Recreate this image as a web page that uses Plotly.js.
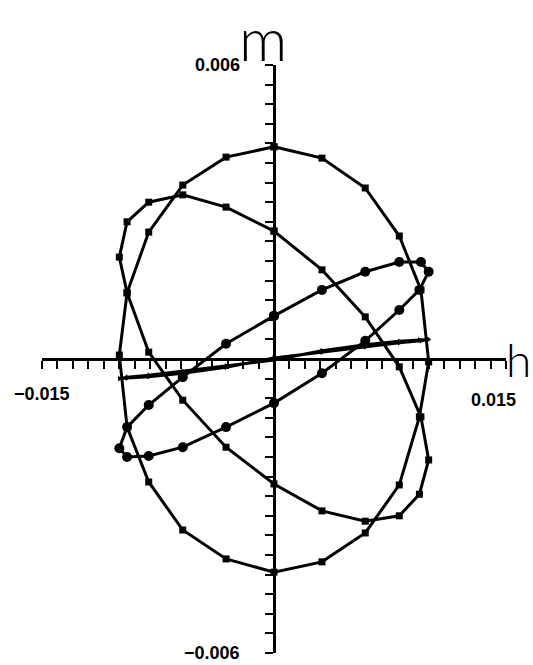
<!DOCTYPE html>
<html>
<head>
<meta charset="utf-8">
<script src="https://cdn.plot.ly/plotly-3.0.1.min.js"></script>
<style>
  html, body { margin: 0; padding: 0; background: #fff; }
  #chart { width: 533px; height: 665px; }
</style>
</head>
<body>
<div id="chart"></div>
<script>
// Applied field h, sampled 20 times per drive cycle (shared by every loop)
const hField = [0, 0.0031, 0.0059, 0.0081, 0.0095, 0.0100, 0.0094, 0.0081, 0.0059, 0.0031,
                0, -0.0031, -0.0059, -0.0081, -0.0095, -0.0100, -0.0095, -0.0081, -0.0059, -0.0031];

// Response m over one cycle for each of the four coexisting loops
const mOuter = [0.00433, 0.00410, 0.00349, 0.00251, 0.00141, -0.00006, -0.00118, -0.00257, -0.00355, -0.00414,
                -0.00435, -0.00408, -0.00349, -0.00251, -0.00139, 0.00008, 0.00135, 0.00259, 0.00355, 0.00412];
const mTwisted = [0.00261, 0.00182, 0.00086, -0.00016, -0.00118, -0.00206, -0.00276, -0.00320, -0.00331, -0.00310,
                  -0.00255, -0.00180, -0.00084, 0.00014, 0.00135, 0.00208, 0.00280, 0.00320, 0.00335, 0.00310];
const mTilted = [0.00088, 0.00141, 0.00178, 0.00198, 0.00198, 0.00178, 0.00141, 0.00100, 0.00037, -0.00029,
                 -0.00090, -0.00139, -0.00180, -0.00198, -0.00200, -0.00182, -0.00139, -0.00094, -0.00037, 0.00031];
const mFlat = [0.00002, 0.00014, 0.00025, 0.00033, 0.00037, 0.00040, 0.00039, 0.00036, 0.00029, 0.00017,
               -0.00002, -0.00014, -0.00025, -0.00033, -0.00037, -0.00040, -0.00039, -0.00036, -0.00029, -0.00017];

// Axis ends
const hRange = [-0.015, 0.015];
const mRange = [-0.006, 0.006];
const hEndLabels = ['\u22120.015', '0.015'];
const mEndLabels = ['\u22120.006', '0.006'];

function closed(arr) { return arr.concat([arr[0]]); }

function loop(m, symbol, size) {
  return {
    type: 'scatter', mode: 'lines+markers',
    x: closed(hField), y: closed(m),
    line: { color: '#000', width: 3 },
    marker: { color: '#000', symbol: symbol, size: size },
    hoverinfo: 'skip', cliponaxis: false
  };
}

const traces = [
  loop(mOuter, 'square', 7),
  loop(mTwisted, 'square', 7),
  loop(mTilted, 'circle', 10),
  loop(mFlat, 'triangle-right', 5)
];

function steps(lo, hi, n) {
  const out = [];
  for (let i = 0; i <= n; i++) out.push(+(lo + (hi - lo) * i / n).toFixed(6));
  return out;
}

const axisCommon = {
  anchor: 'free', position: 0.5,
  showline: true, linecolor: '#000', linewidth: 3,
  ticks: 'outside', ticklen: 8, tickwidth: 2, tickcolor: '#000',
  tickmode: 'array', showticklabels: false,
  showgrid: false, zeroline: false, fixedrange: true
};

const labelFont = { family: 'Liberation Sans, Arial, sans-serif', size: 18, color: '#000', weight: 700 };
const letterFont = (s) => ({ family: 'Lato, Noto Sans, sans-serif', size: s, color: '#000', weight: 300 });

const layout = {
  width: 533, height: 665,
  margin: { l: 42, r: 27, t: 65, b: 12 },
  paper_bgcolor: '#fff', plot_bgcolor: '#fff',
  showlegend: false,
  xaxis: Object.assign({}, axisCommon, { range: hRange, tickvals: steps(hRange[0], hRange[1], 30) }),
  yaxis: Object.assign({}, axisCommon, { range: mRange, tickvals: steps(mRange[0], mRange[1], 30) }),
  annotations: [
    { text: hEndLabels[0], x: hRange[0], y: -0.00072, xref: 'x', yref: 'y', showarrow: false, font: labelFont, xanchor: 'center', yanchor: 'middle' },
    { text: hEndLabels[1], x: 0.01422, y: -0.00084, xref: 'x', yref: 'y', showarrow: false, font: labelFont, xanchor: 'center', yanchor: 'middle' },
    { text: mEndLabels[1], x: -0.00368, y: mRange[1], xref: 'x', yref: 'y', showarrow: false, font: labelFont, xanchor: 'center', yanchor: 'middle' },
    { text: mEndLabels[0], x: -0.0040, y: mRange[0], xref: 'x', yref: 'y', showarrow: false, font: labelFont, xanchor: 'center', yanchor: 'middle' },
    // axis letters sit outside the plotting area, so they are placed in paper units
    { text: 'm', x: 0.476, y: 1.1105, xref: 'paper', yref: 'paper', showarrow: false, font: letterFont(60), xanchor: 'center', yanchor: 'top' },
    { text: 'h', x: 1.0582, y: 0.5, xref: 'paper', yref: 'paper', showarrow: false, font: letterFont(46), xanchor: 'right', yanchor: 'middle' }
  ]
};

Plotly.newPlot('chart', traces, layout, { displayModeBar: false, staticPlot: true });
</script>
</body>
</html>
